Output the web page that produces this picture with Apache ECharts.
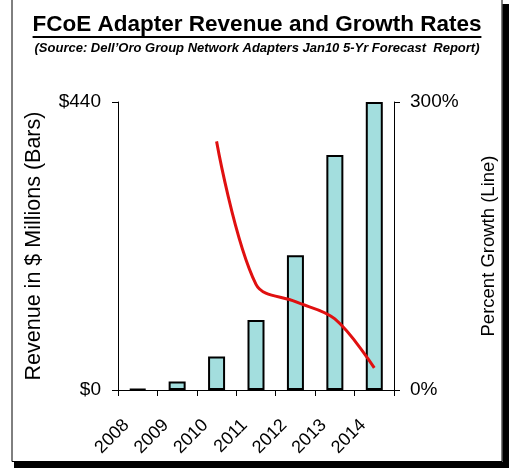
<!DOCTYPE html>
<html>
<head>
<meta charset="utf-8">
<script src="https://cdn.jsdelivr.net/npm/echarts@6/dist/echarts.min.js"></script>
<style>
html,body{margin:0;padding:0;background:#fff;}
#c{width:511px;height:468px;}
</style>
</head>
<body>
<div id="c"></div>
<script>
// ---- data ----
var years = ['2008', '2009', '2010', '2011', '2012', '2013', '2014'];
var revenue = [1.5, 13, 51, 107, 206, 359, 440];
var growth = [null, null, 259, 110, 92, 74, 23];
var leftTicks = [0, 440];
var rightTicks = [0, 300];

var titleText = 'FCoE Adapter Revenue and Growth Rates';
var subText = '(Source: Dell\u2019Oro Group Network Adapters Jan10 5-Yr Forecast  Report)';

var FONT = '"Liberation Sans", Arial, sans-serif';

function measure(txt, font) {
  var cv = document.createElement('canvas').getContext('2d');
  cv.font = font;
  return cv.measureText(txt).width;
}
var titleFont = 'bold 22.5px "Liberation Sans", Arial';
var titleW = measure(titleText, titleFont);
var cx = 257;

var chart = echarts.init(document.getElementById('c'), null, {renderer: 'canvas'});
chart.setOption({
  animation: false,
  backgroundColor: '#fff',
  grid: {left: 118, right: 117, top: 102, bottom: 78, containLabel: false},
  graphic: [
    {type: 'rect', shape: {x: 502.5, y: 4, width: 6.5, height: 464}, style: {fill: '#000'}},
    {type: 'rect', shape: {x: 14, y: 462, width: 495, height: 6}, style: {fill: '#000'}},
    {type: 'rect', shape: {x: 12, y: -2, width: 490, height: 463.5}, style: {fill: 'none', stroke: '#000', lineWidth: 1}},
    {type: 'text', x: cx, y: 13, style: {text: titleText, font: titleFont, fill: '#000', textAlign: 'center', textVerticalAlign: 'top'}},
    {type: 'line', shape: {x1: cx - titleW / 2, y1: 37, x2: cx + titleW / 2, y2: 37}, style: {stroke: '#000', lineWidth: 2}},
    {type: 'text', x: cx, y: 41.5, style: {text: subText, font: 'italic bold 13px "Liberation Sans", Arial', fill: '#000', textAlign: 'center', textVerticalAlign: 'top'}}
  ],
  xAxis: {
    type: 'category',
    data: years,
    axisLine: {lineStyle: {color: '#000', width: 1}},
    axisTick: {show: true, length: 6, lineStyle: {color: '#000'}},
    axisLabel: {rotate: 45, color: '#000', fontSize: 18, fontFamily: FONT, margin: 21, padding: [0, 16, 0, 0], interval: 0}
  },
  yAxis: [
    {
      type: 'value', min: leftTicks[0], max: leftTicks[1], interval: leftTicks[1] - leftTicks[0],
      name: 'Revenue in $ Millions (Bars)', nameLocation: 'middle', nameGap: 73,
      nameTextStyle: {color: '#000', fontSize: 21.5, fontFamily: FONT},
      axisLine: {show: true, lineStyle: {color: '#000', width: 1}},
      axisTick: {show: true, length: 6, lineStyle: {color: '#000'}},
      splitLine: {show: false},
      axisLabel: {color: '#000', fontSize: 19, fontFamily: FONT, margin: 17, formatter: function (v) { return '$' + v; }}
    },
    {
      type: 'value', min: rightTicks[0], max: rightTicks[1], interval: rightTicks[1] - rightTicks[0],
      position: 'right',
      name: 'Percent Growth (Line)', nameLocation: 'middle', nameGap: 85, nameRotate: 90,
      nameTextStyle: {color: '#000', fontSize: 18.5, fontFamily: FONT},
      axisLine: {show: true, lineStyle: {color: '#000', width: 1}},
      axisTick: {show: true, length: 6, lineStyle: {color: '#000'}},
      splitLine: {show: false},
      axisLabel: {color: '#000', fontSize: 19, fontFamily: FONT, margin: 16, formatter: function (v) { return v + '%'; }}
    }
  ],
  series: [
    {
      type: 'bar', data: revenue, yAxisIndex: 0, barWidth: 17,
      itemStyle: {color: '#a3dede', borderColor: '#000', borderWidth: 2}
    },
    {
      type: 'line', data: growth, yAxisIndex: 1, smooth: 0.35, showSymbol: false, symbol: 'none',
      lineStyle: {color: '#e01010', width: 3}, z: 5
    }
  ]
});
</script>
</body>
</html>
